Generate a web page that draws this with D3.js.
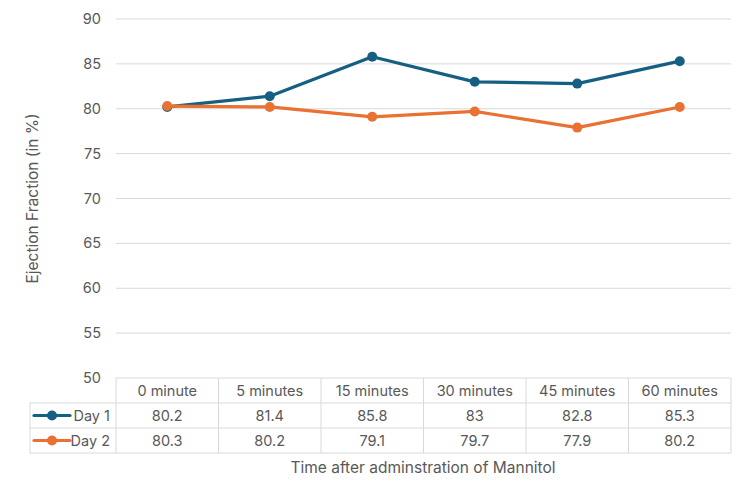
<!DOCTYPE html>
<html lang="en">
<head>
<meta charset="utf-8">
<style>
  body { margin: 0; background: #fff; }
  text { font-family: Inter, "Open Sans", sans-serif; fill: #595959; }
</style>
</head>
<body>
<svg id="chart" width="750" height="500"></svg>
<script src="https://cdn.jsdelivr.net/npm/d3@7"></script>
<script>
var categories = ["0 minute", "5 minutes", "15 minutes", "30 minutes", "45 minutes", "60 minutes"];
var day1 = [80.2, 81.4, 85.8, 83, 82.8, 85.3];
var day2 = [80.3, 80.2, 79.1, 79.7, 77.9, 80.2];
var seriesNames = ["Day 1", "Day 2"];
var seriesColors = ["#156082", "#E97132"];
var yTicks = [50, 55, 60, 65, 70, 75, 80, 85, 90];

var svg = d3.select("#chart");
var plotLeft = 116, plotRight = 731, plotTop = 19, plotBottom = 378;
var rowH = 25;
var fs = 14.5, titleFs = 15.5;

var x = d3.scaleBand().domain(categories).range([plotLeft, plotRight]);
var y = d3.scaleLinear().domain([50, 90]).range([plotBottom, plotTop]);

// gridlines
svg.append("g").selectAll("line")
  .data(yTicks.slice(1))
  .enter().append("line")
  .attr("x1", plotLeft).attr("x2", plotRight)
  .attr("y1", function(d){ return y(d); })
  .attr("y2", function(d){ return y(d); })
  .attr("stroke", "#d9d9d9").attr("stroke-width", 1);

// y labels
svg.append("g").selectAll("text")
  .data(yTicks)
  .enter().append("text")
  .attr("x", 101)
  .attr("y", function(d){ return y(d) + 5; })
  .attr("text-anchor", "end")
  .attr("font-size", fs)
  .text(function(d){ return d; });

// y title
svg.append("text")
  .attr("transform", "translate(38," + ((plotTop + plotBottom) / 2) + ") rotate(-90)")
  .attr("text-anchor", "middle")
  .attr("font-size", titleFs)
  .text("Ejection Fraction (in %)");

// lines
var allSeries = [day1, day2];
var line = d3.line()
  .x(function(d, i){ return x(categories[i]) + x.bandwidth() / 2; })
  .y(function(d){ return y(d); });

allSeries.forEach(function(s, k){
  svg.append("path")
    .attr("d", line(s))
    .attr("fill", "none")
    .attr("stroke", seriesColors[k])
    .attr("stroke-width", 3.2)
    .attr("stroke-linejoin", "round");
  svg.append("g").selectAll("circle")
    .data(s)
    .enter().append("circle")
    .attr("cx", function(d, i){ return x(categories[i]) + x.bandwidth() / 2; })
    .attr("cy", function(d){ return y(d); })
    .attr("r", 5)
    .attr("fill", seriesColors[k]);
});

// data table
var tbl = svg.append("g");
var tableLeft = 30;
var border = "#d9d9d9";
[0, 1, 2, 3].forEach(function(r){
  tbl.append("line")
    .attr("x1", r === 0 ? plotLeft : tableLeft).attr("x2", plotRight)
    .attr("y1", plotBottom + r * rowH).attr("y2", plotBottom + r * rowH)
    .attr("stroke", border);
});
tbl.append("line").attr("x1", tableLeft).attr("x2", tableLeft)
  .attr("y1", plotBottom + rowH).attr("y2", plotBottom + 3 * rowH).attr("stroke", border);
categories.forEach(function(c){
  tbl.append("line").attr("x1", x(c)).attr("x2", x(c))
    .attr("y1", plotBottom).attr("y2", plotBottom + 3 * rowH).attr("stroke", border);
});
tbl.append("line").attr("x1", plotRight).attr("x2", plotRight)
  .attr("y1", plotBottom).attr("y2", plotBottom + 3 * rowH).attr("stroke", border);

// header
tbl.selectAll("text.head")
  .data(categories)
  .enter().append("text")
  .attr("x", function(d){ return x(d) + x.bandwidth() / 2; })
  .attr("y", plotBottom + rowH / 2 + 5)
  .attr("text-anchor", "middle")
  .attr("font-size", fs)
  .text(function(d){ return d; });

allSeries.forEach(function(s, k){
  var ry = plotBottom + (k + 1) * rowH;
  tbl.append("g").selectAll("text")
    .data(s)
    .enter().append("text")
    .attr("x", function(d, i){ return x(categories[i]) + x.bandwidth() / 2; })
    .attr("y", ry + rowH / 2 + 5)
    .attr("text-anchor", "middle")
    .attr("font-size", fs)
    .text(function(d){ return d; });
  // legend key
  tbl.append("line")
    .attr("x1", 34).attr("x2", 70)
    .attr("y1", ry + rowH / 2).attr("y2", ry + rowH / 2)
    .attr("stroke", seriesColors[k]).attr("stroke-width", 3.2)
    .attr("stroke-linecap", "round");
  tbl.append("circle")
    .attr("cx", 52).attr("cy", ry + rowH / 2).attr("r", 5)
    .attr("fill", seriesColors[k]);
  tbl.append("text")
    .attr("x", 110).attr("y", ry + rowH / 2 + 5)
    .attr("text-anchor", "end")
    .attr("font-size", fs)
    .text(seriesNames[k]);
});

// x title
svg.append("text")
  .attr("x", 423).attr("y", 473)
  .attr("text-anchor", "middle")
  .attr("font-size", titleFs)
  .text("Time after adminstration of Mannitol");
</script>
</body>
</html>
